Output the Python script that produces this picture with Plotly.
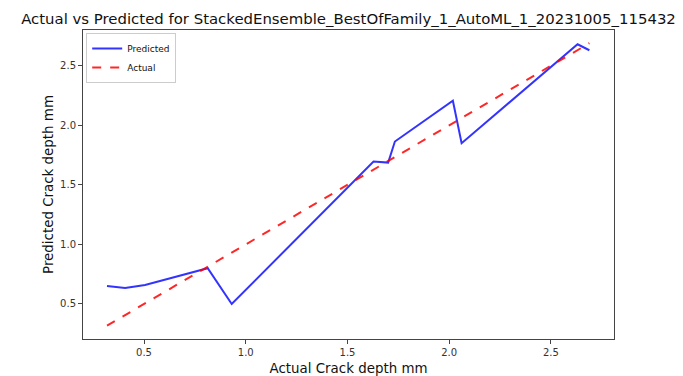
import plotly.graph_objects as go

actual = [0.318, 0.407, 0.505, 0.813, 0.931, 1.628, 1.700, 1.733, 2.018, 2.061, 2.631, 2.689]
predicted = [0.651, 0.634, 0.660, 0.800, 0.500, 1.696, 1.687, 1.864, 2.206, 1.850, 2.680, 2.630]
xticks = [0.5, 1.0, 1.5, 2.0, 2.5]
yticks = [0.5, 1.0, 1.5, 2.0, 2.5]

fig = go.Figure()
fig.add_trace(go.Scatter(x=actual, y=predicted, mode="lines", name="Predicted",
                         line=dict(color="rgba(0,0,255,0.8)", width=2)))
fig.add_trace(go.Scatter(x=actual, y=actual, mode="lines", name="Actual",
                         line=dict(color="rgba(255,0,0,0.85)", width=2, dash="dash")))

font = "DejaVu Sans, Liberation Sans, sans-serif"
axis_common = dict(showline=True, linecolor="#444", linewidth=1, mirror=True,
                   ticks="outside", ticklen=4, tickcolor="#444", showgrid=False,
                   zeroline=False, automargin=False,
                   tickfont=dict(size=10, color="#333", family=font))

fig.update_layout(
    width=675, height=368,
    margin=dict(l=75, r=69, t=22, b=37),
    paper_bgcolor="white", plot_bgcolor="white",
    font=dict(family=font, color="#111"),
    title=dict(text="Actual vs Predicted for StackedEnsemble_BestOfFamily_1_AutoML_1_20231005_115432",
               x=0.5, xref="paper", xanchor="center", y=0.97, yanchor="middle",
               font=dict(size=14.9, family=font, color="#111")),
    xaxis=dict(range=[0.2, 2.81], tickvals=xticks, ticktext=[f"{v:.1f}" for v in xticks],
               title=dict(text="Actual Crack depth mm", font=dict(size=13.4), standoff=12), **axis_common),
    yaxis=dict(range=[0.206, 2.80], tickvals=yticks, ticktext=[f"{v:.1f}" for v in yticks],
               title=dict(text="Predicted Crack depth mm", font=dict(size=13.4), standoff=3), **axis_common),
    legend=dict(x=0.006, y=0.99, xanchor="left", yanchor="top", bgcolor="white",
                bordercolor="#ccc", borderwidth=1, font=dict(size=9, family=font),
                tracegroupgap=0, itemwidth=30),
    showlegend=True,
)

fig.write_html("out.html")
